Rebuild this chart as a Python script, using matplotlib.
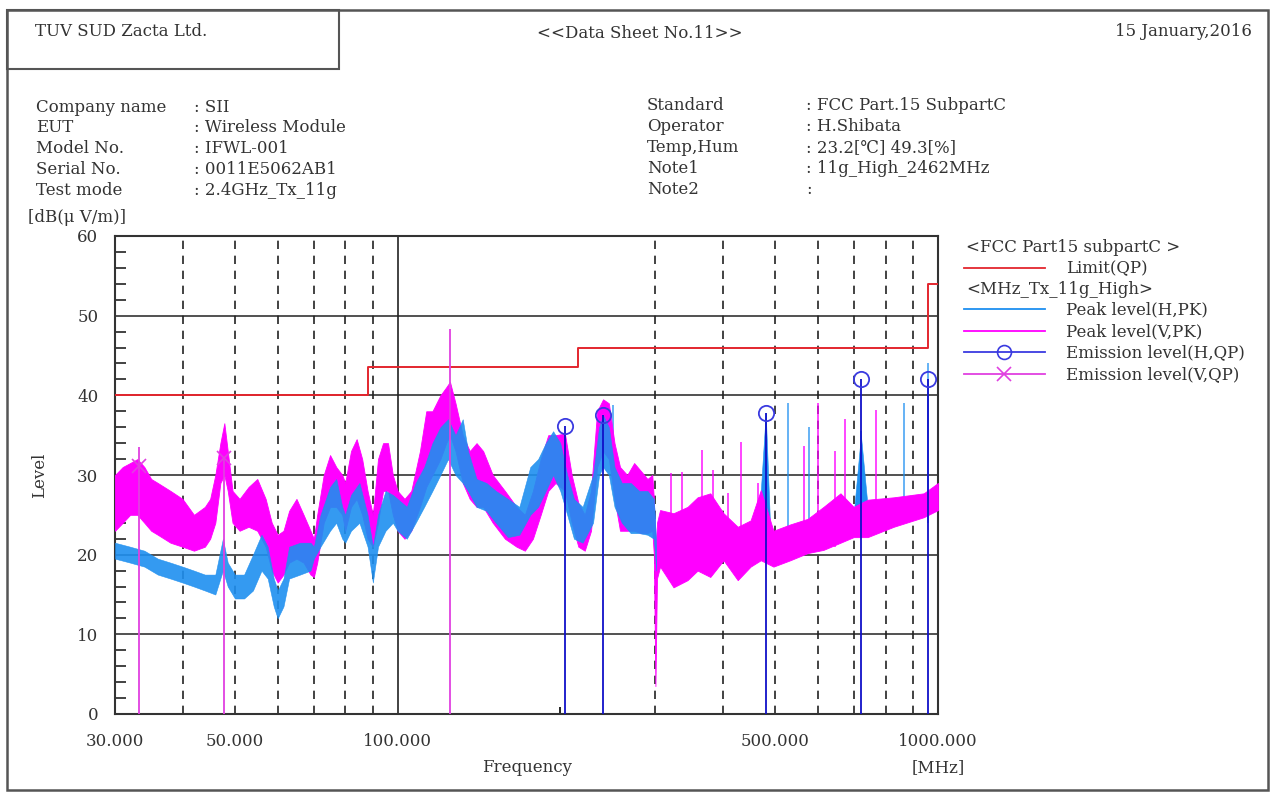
import matplotlib
matplotlib.use("Agg")
import matplotlib.pyplot as plt
import numpy as np
from matplotlib.lines import Line2D
from matplotlib.patches import Rectangle
from matplotlib.ticker import FixedLocator, FuncFormatter

plt.rcParams['font.family'] = ['DejaVu Serif', 'DejaVu Sans']

# --- данные ---
limit_f = [30, 88, 88, 216, 216, 960, 960, 1000]
limit_db = [40, 40, 43.5, 43.5, 46, 46, 54, 54]

# Peak level (V,PK): частота, нижняя и верхняя граница шумовой полосы
v_f = [30, 31, 32, 33, 34, 35, 36, 38, 40, 42, 44, 45, 46, 47, 47.8, 48.5, 49.5, 51, 53, 55,
       57, 58.5, 60, 61.5, 63, 65, 67, 69, 70, 71, 73, 75, 77, 79, 80, 82, 84, 86, 88, 90,
       92, 94, 96, 98, 100, 103, 106, 110, 113, 116, 120, 123, 125, 128, 132, 136, 140, 144,
       150, 158, 166, 172, 178, 184, 190, 196, 204, 210, 216, 222, 228, 234, 240, 246, 252,
       258, 266, 274, 282, 290, 296, 298, 300, 302, 306, 324, 344, 359, 379, 401, 426, 450,
       470, 496, 533, 574, 614, 660, 698, 741, 828, 941, 1000]
v_lo = [23, 24, 25, 25, 24, 23, 22.5, 21.5, 21, 20.5, 21, 22, 24, 29, 30, 28, 24, 23, 23.5, 23,
        21, 18, 16.5, 17.5, 19, 19.5, 19, 17.5, 17.2, 19, 24, 26, 26, 25, 23, 26, 27, 25, 22, 21,
        24, 28, 28, 25, 23, 22, 23, 26, 28.5, 30, 32, 34, 35, 33, 29, 27, 26, 26,
        24, 22, 21, 20.5, 22, 25, 28, 29, 28, 24, 21, 20.5, 23, 31, 33, 32, 27,
        23, 23, 23, 22.7, 22.7, 23, 20, 3.5, 17, 18.5, 15.9, 16.8, 18, 17.2, 19.3, 16.8, 18.5,
        19.3, 18.5, 19.3, 20.2, 20.6, 21.5, 22.2, 22.2, 23.5, 24.7, 25.6]
v_hi = [30, 31, 31.5, 32, 31, 29.5, 29, 28, 27, 25, 26, 27, 30, 34, 36.5, 33, 28, 27, 28.5, 29.5,
        27, 24, 22.5, 23, 25.5, 27, 25, 23, 22, 25, 30, 32.5, 31, 30, 29, 33, 34.5, 32, 28, 25,
        32, 34, 34, 30, 28, 27, 28, 33, 38, 38, 40, 41, 41.7, 39, 35, 33, 34, 33,
        30, 28, 26, 25, 28, 32, 35, 35, 35.2, 30, 26.5, 25, 28, 38, 39.5, 39, 34,
        31, 30, 31.5, 30.5, 29.5, 30, 27, 20, 24, 25.6, 25.2, 26, 27.2, 27.7, 25.2, 23.5, 24.3,
        28.1, 23, 23.8, 24.5, 26, 27.7, 26, 26.9, 27.2, 27.7, 29]

# Peak level (H,PK)
h_f = [30, 32, 34, 36, 38, 40, 42, 44, 46, 47.5, 48.5, 50, 52, 54, 56, 57.5, 59, 60, 61.5, 63,
       66, 69, 70, 72, 75, 77, 79, 80, 82, 85, 88, 90, 92, 95, 98, 100, 104, 108, 112, 116,
       120, 124, 128, 132, 135, 140, 146, 152, 160, 168, 176, 182, 188, 194, 200, 206, 212,
       220, 230, 236, 240, 246, 252, 260, 270, 280, 290, 298, 301, 306, 324, 344, 359, 379,
       401, 426, 450, 470, 480, 490, 533, 574, 614, 660, 698, 720, 741, 828, 941, 1000]
h_lo = [19.5, 19, 18.5, 17.5, 17, 16.5, 16, 15.5, 15, 18, 16, 14.5, 14.5, 15.5, 18, 17, 13.5, 12, 13.5, 17,
        17.5, 18, 19.5, 21, 23, 24, 22, 21.5, 23, 24, 21, 16.5, 21, 23, 24, 23, 22, 24, 26, 28,
        30, 32, 30, 29, 28, 26, 25.5, 24, 22.2, 22.5, 25, 26, 28, 30, 28, 25, 22,
        21.5, 24, 30, 31, 30, 26, 24, 22.7, 22.7, 22.5, 22, 18, 19, 17, 17.5, 18.5, 18,
        19.5, 17.5, 19, 20, 24, 20, 20, 20.7, 21, 22, 22.5, 24, 23, 24, 25.3, 26]
h_hi = [21.5, 21, 20.5, 19.5, 19, 18.5, 18, 17.5, 17.5, 22, 19, 17.5, 17.5, 20, 22.5, 21, 17, 15.5, 17, 21,
        21.5, 21.5, 21, 25, 28.5, 29.5, 26, 25, 27.5, 29, 25, 21, 25, 28, 27.5, 27, 26, 29, 31, 34,
        36, 37, 35, 37, 33, 29.5, 29, 28, 27, 26, 31, 32, 34, 35.5, 34, 30, 27,
        26, 30, 36, 37.5, 36, 31, 29, 29, 28, 28, 27, 21, 22, 21, 22, 23, 22,
        23, 22, 23, 28, 37.8, 22, 22.5, 23.5, 24.5, 25, 25, 35, 26, 26.5, 27, 28]

# одиночные выбросы пиковых трасс
h_spike_f = [250, 528, 576, 720, 864, 960]
h_spike_lo = [30, 22, 22, 24, 25, 24]
h_spike_hi = [38.8, 39.1, 36, 35.5, 39.1, 44]
v_spike_f = [320, 336, 366, 384, 408, 432, 464, 566, 600, 646, 672, 768]
v_spike_lo = [20, 20, 20, 20, 20, 20, 20, 21, 21, 21, 22, 23]
v_spike_hi = [30.2, 30.4, 33.2, 30.6, 27.7, 34.1, 29, 33.7, 39, 33, 37, 38.1]

# квазипиковые измерения
qp_h_f = [204, 240, 480, 720, 960]
qp_h_db = [36.1, 37.5, 37.8, 42.1, 42.1]
qp_v_f = [33.2, 47.8]
qp_v_db = [31.1, 32.1]
v_stem_f = [33.2, 47.8, 125.2]
v_stem_top = [33.5, 32.1, 48.3]

x_ticks = [30, 50, 100, 500, 1000]
dash_grid = [40, 50, 60, 70, 80, 90, 300, 400, 500, 600, 700, 800, 900]

info_left = [("Company name", ": SII"), ("EUT", ": Wireless Module"),
             ("Model No.", ": IFWL-001"), ("Serial No.", ": 0011E5062AB1"),
             ("Test mode", ": 2.4GHz_Tx_11g")]
info_right = [("Standard", ": FCC Part.15 SubpartC"), ("Operator", ": H.Shibata"),
              ("Temp,Hum", ": 23.2[\u2103] 49.3[%]"), ("Note1", ": 11g_High_2462MHz"),
              ("Note2", ":")]

C_LIMIT = '#E3262E'
C_H = '#1E8FF0'
C_V = '#FF00FF'
C_QPH = '#1010C8'
C_QPV = '#E040E0'
TXT = '#333333'

W, H = 1274, 793
fig = plt.figure(figsize=(W / 100, H / 100), dpi=100)


def P(x, y):
    # пиксели -> координаты фигуры
    return x / W, 1 - y / H


fs = 12

# рамки листа
fig.add_artist(Rectangle(P(7, 790), (1268 - 7) / W, (790 - 10) / H, transform=fig.transFigure,
                         fill=False, ec='#555555', lw=1.8))
fig.add_artist(Rectangle(P(7, 69), (339 - 7) / W, (69 - 10) / H, transform=fig.transFigure,
                         fill=False, ec='#555555', lw=1.5))

fig.text(*P(35, 32), "TUV SUD Zacta Ltd.", fontsize=fs, color=TXT, va='center')
fig.text(*P(640, 33), "<<Data Sheet No.11>>", fontsize=fs, color=TXT, va='center', ha='center')
fig.text(*P(1252, 31), "15 January,2016", fontsize=fs, color=TXT, va='center', ha='right')

for i, (k, v) in enumerate(info_left):
    y = 107 + i * 20.8
    fig.text(*P(36, y), k, fontsize=fs, color=TXT, va='center')
    fig.text(*P(194, y), v, fontsize=fs, color=TXT, va='center')
for i, (k, v) in enumerate(info_right):
    y = 106 + i * 20.8
    fig.text(*P(647, y), k, fontsize=fs, color=TXT, va='center')
    fig.text(*P(806, y), v, fontsize=fs, color=TXT, va='center')

fig.text(*P(28, 218), "[dB(\u03bc V/m)]", fontsize=fs, color=TXT, va='center')
fig.text(*P(40, 475), "Level", fontsize=fs, color=TXT, va='center', ha='center', rotation=90)
fig.text(*P(527, 768), "Frequency", fontsize=fs, color=TXT, va='center', ha='center')
fig.text(*P(938, 768), "[MHz]", fontsize=fs, color=TXT, va='center', ha='center')

# --- график ---
ax = fig.add_axes([115 / W, 1 - 714 / H, (938 - 115) / W, (714 - 236) / H])
ax.set_xscale('log')
ax.set_xlim(30, 1000)
ax.set_ylim(0, 60)

for g in range(10, 60, 10):
    ax.axhline(g, color='#333333', lw=1.2, zorder=1)
for g in dash_grid:
    ax.axvline(g, color='#222222', lw=1.2, ls=(0, (5, 4)), zorder=1)
ax.axvline(100, color='#222222', lw=1.2, zorder=1)

hf = np.array(h_f)
hl = np.array(h_lo)
hh = np.array(h_hi)
lowband = hf <= 301      # до 300 МГц горизонтальная трасса поверх вертикальной
highband = hf >= 298

ax.fill_between(hf[highband], hl[highband], hh[highband], color=C_H, lw=0.4, zorder=2)
ax.vlines(h_spike_f, h_spike_lo, h_spike_hi, color=C_H, lw=1.2, alpha=0.8, zorder=2)
ax.fill_between(v_f, v_lo, v_hi, color=C_V, lw=0.6, zorder=3)
ax.vlines(v_spike_f, v_spike_lo, v_spike_hi, color=C_V, lw=1.2, alpha=0.85, zorder=3)
ax.fill_between(hf[lowband], hl[lowband], hh[lowband], color=C_H, alpha=0.9, lw=0.4, zorder=4)

ax.plot(limit_f, limit_db, color=C_LIMIT, lw=1.4, zorder=5)

ax.vlines(v_stem_f, 0, v_stem_top, color=C_QPV, lw=1.3, zorder=6)
ax.plot(qp_v_f, qp_v_db, ls='none', marker='x', ms=10, mew=1.2, color=C_QPV, zorder=7)
ax.vlines(qp_h_f, 0, qp_h_db, color=C_QPH, lw=1.3, zorder=6)
ax.plot(qp_h_f, qp_h_db, ls='none', marker='o', ms=11, mfc='none', mew=1.3, color='#3A3AE0', zorder=7)

ax.xaxis.set_major_locator(FixedLocator(x_ticks))
ax.xaxis.set_major_formatter(FuncFormatter(lambda v, p: f"{v:.3f}"))
ax.xaxis.set_minor_locator(FixedLocator([200]))
ax.tick_params(axis='x', which='major', length=0, pad=14, labelsize=fs, labelcolor=TXT)
ax.tick_params(axis='x', which='minor', length=5, direction='in', width=1.2)
ax.set_yticks(range(0, 61, 10))
ax.yaxis.set_minor_locator(FixedLocator([v for v in range(2, 60, 2) if v % 10]))
ax.tick_params(axis='y', which='major', length=0, pad=12, labelsize=fs, labelcolor=TXT)
ax.tick_params(axis='y', which='minor', length=8, direction='in', width=1.2, color='#222222')
for s in ax.spines.values():
    s.set_color('#333333')
    s.set_linewidth(1.5)

# --- легенда ---
fig.text(*P(966, 248), "<FCC Part15 subpartC >", fontsize=fs, color=TXT, va='center')
fig.text(*P(966, 290), "<MHz_Tx_11g_High>", fontsize=fs, color=TXT, va='center')
leg = [(268, "Limit(QP)", C_LIMIT, None),
       (309, "Peak level(H,PK)", C_H, None),
       (331, "Peak level(V,PK)", C_V, None),
       (352, "Emission level(H,QP)", '#3A3AE0', 'o'),
       (374, "Emission level(V,QP)", C_QPV, 'x')]
for y, lab, c, m in leg:
    x0, y0 = P(964, y)
    x1, _ = P(1045, y)
    fig.add_artist(Line2D([x0, x1], [y0, y0], transform=fig.transFigure, color=c, lw=1.3))
    if m:
        xm, _ = P(1004, y)
        fig.add_artist(Line2D([xm], [y0], transform=fig.transFigure, color=c, marker=m, ms=10,
                              mfc='none', mew=1.2))
    fig.text(*P(1066, y + 1), lab, fontsize=fs, color=TXT, va='center')

fig.savefig("out.png", dpi=100)
